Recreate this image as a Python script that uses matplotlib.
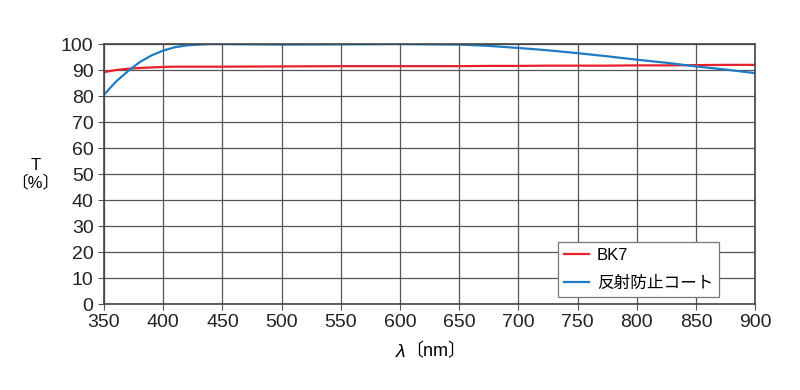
import numpy as np
import matplotlib
matplotlib.use("Agg")
import matplotlib.pyplot as plt

plt.rcParams['font.family'] = ['Liberation Sans', 'Noto Sans CJK JP', 'DejaVu Sans']

# wavelength samples (nm) and transmittance (%)
wl = [350, 360, 370, 380, 390, 400, 410, 420, 430, 440, 450, 500, 550, 600, 650,
      675, 700, 725, 750, 775, 800, 825, 850, 875, 900]
bk7 = [89.2, 90.0, 90.5, 90.8, 91.0, 91.2, 91.3, 91.3, 91.3, 91.3, 91.3, 91.4, 91.5, 91.5, 91.5,
       91.6, 91.6, 91.7, 91.7, 91.7, 91.8, 91.8, 91.9, 92.0, 92.0]
ar = [80.5, 85.5, 89.5, 93.0, 95.6, 97.5, 98.8, 99.5, 99.8, 100.0, 100.0, 99.8, 99.9, 100.0, 99.8,
      99.3, 98.5, 97.6, 96.5, 95.3, 94.0, 92.8, 91.4, 90.2, 88.8]

labels = ['BK7', '反射防止コート']

fig = plt.figure(figsize=(8, 3.9), dpi=100)
ax = fig.add_axes([0.13, 0.2205, 0.814, 0.6665])

ax.plot(wl, bk7, color='#e8202a', lw=1.6, label=labels[0])
ax.plot(wl, ar, color='#1f7cc4', lw=1.6, label=labels[1])

ax.set_xlim(350, 900)
ax.set_ylim(0, 100)
ax.set_xticks(range(350, 901, 50))
ax.set_yticks(range(0, 101, 10))
ax.grid(True, color='#555555', lw=0.9)
ax.set_axisbelow(True)
for s in ax.spines.values():
    s.set_color('#444444')
    s.set_linewidth(1.2)
ax.tick_params(length=4, color='#555555', labelsize=14, colors='#222222', direction='out')

# x label: italic lambda followed by bracketed unit
ax.text(0.463, -0.185, 'λ', style='italic', transform=ax.transAxes,
        ha='right', va='center', fontsize=14)
ax.text(0.463, -0.185, '〔nm〕', transform=ax.transAxes,
        ha='left', va='center', fontsize=13)
ax.text(-0.105, 0.5, 'T\n〔%〕', transform=ax.transAxes, ha='center', va='center',
        fontsize=12, linespacing=1.1)

leg = ax.legend(loc='lower right', bbox_to_anchor=(0.9447, 0.027), borderaxespad=0,
                fontsize=12, fancybox=False, framealpha=1, edgecolor='#777777',
                handlelength=1.5, handletextpad=0.5, borderpad=0.35, labelspacing=0.8)
leg.get_frame().set_linewidth(0.9)

fig.savefig('out.png', dpi=100)
